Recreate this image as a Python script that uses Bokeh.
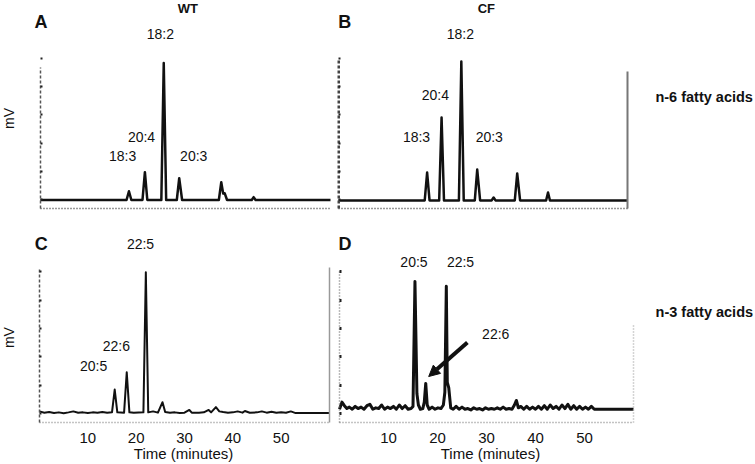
import math
from bokeh.plotting import figure
from bokeh.models import Range1d, LinearAxis, FixedTicker, Label, Arrow, NormalHead
from bokeh.layouts import column, row
from bokeh.embed import file_html
from bokeh.resources import INLINE

# ---------------- data ----------------
# Panel A: WT, n-6 fatty acids (time in minutes, signal in arbitrary mV units)
a_time = [0, 17.8, 18.3, 18.8, 21.1, 21.6, 22.1, 25.0, 25.5, 26.0, 28.2, 28.7, 29.3,
          36.9, 37.4, 37.8, 38.1, 38.6, 43.7, 44.1, 44.5, 60]
a_signal = [0, 0, 6.2, 0, 0, 19.6, 0, 0, 96.6, 0, 0, 15.4, 0,
            0, 12.6, 4.5, 4.8, 0, 0, 2.0, 0, 0]

# Panel B: CF, n-6 fatty acids
b_time = [0, 17.9, 18.4, 18.9, 20.9, 21.4, 21.9, 25.0, 25.5, 26.0, 28.3, 28.8, 29.4,
          31.8, 32.2, 32.6, 36.6, 37.1, 37.7, 43.1, 43.5, 43.9, 60]
b_signal = [-0.3, -0.3, 19.4, -0.3, -0.3, 58.2, -0.3, -0.3, 97.8, -0.3, -0.3, 21.5, -0.3,
            -0.3, 1.8, -0.3, -0.3, 18.7, -0.3, -0.3, 5.3, -0.3, -0.3]

# Panel C: WT, n-3 fatty acids
c_time = [0, 1, 2, 3, 4, 5, 6, 7, 8, 9, 10, 11, 12, 13, 14, 15.0, 15.56, 16.1, 17.5, 18.05,
          18.6, 19.5, 21.5, 22.0, 22.5, 23.5, 24.5, 25.45, 26.0, 27, 28, 29, 30, 31.0, 31.5,
          33, 34, 35.0, 35.5, 36.5, 37.2, 38, 39, 40, 41, 42, 42.5, 43.5, 45, 46, 47, 48, 49,
          50, 51, 52, 53, 60]
c_signal = [1.5, 0.5, 1.0, 0.3, 0.8, 0.2, 0.8, 1.5, 0.5, 0.8, 0.3, 0.8, 0.5, 1.0, 0.5, 0.8,
            16.9, 0.8, 0.6, 29.1, 0.8, 0.5, 0.8, 99.7, 0.8, 1.5, 0.6, 8.0, 1.0, 0.5, 0.8, 0.4,
            0.6, 2.5, 0.6, 0.5, 0.8, 2.5, 0.8, 4.5, 1.5, 1.0, 0.6, 0.8, 1.5, 0.6, 1.8, 0.5,
            0.8, 1.5, 0.6, 1.2, 0.5, 0.8, 0.5, 1.5, 0.3, 0.3]

# Panel D: CF, n-3 fatty acids
d_time = [0, 0.5, 1.0, 1.5, 2.0, 2.6, 3.2, 3.8, 4.4, 5.0, 5.6, 6.2, 6.8, 7.4, 8.0, 8.6, 9.2,
          9.8, 10.4, 11.0, 11.6, 12.2, 12.8, 13.4, 14.0, 14.6, 15.0, 15.4, 15.8, 16.1, 16.5,
          17.0, 17.3, 17.6, 17.9, 18.3, 18.9, 19.5, 20.1, 20.7, 21.2, 21.5, 21.8, 22.0, 22.3,
          22.7, 23.2, 23.8, 24.4, 25.0, 25.6, 26.2, 26.8, 27.4, 28.0, 28.6, 29.2, 29.8, 30.4,
          31.0, 31.6, 32.2, 32.8, 33.4, 34.0, 34.6, 35.2, 35.7, 36.1, 36.5, 37.0, 37.6, 38.2,
          38.8, 39.4, 40.0, 40.6, 41.2, 41.8, 42.4, 43.0, 43.6, 44.2, 44.8, 45.4, 46.0, 46.6,
          47.2, 47.8, 48.4, 49.0, 49.6, 50.2, 50.8, 51.4, 52.0, 60]
d_signal = [3.0, 8.0, 5.5, 3.5, 4.5, 3.0, 5.0, 3.5, 4.5, 3.0, 5.5, 6.5, 3.0, 4.0, 3.5, 6.0, 3.0,
            4.5, 3.5, 5.0, 3.0, 6.0, 3.5, 5.5, 3.0, 3.5, 5.0, 93.2, 14.0, 6.0, 3.0,
            3.5, 8.0, 21.2, 6.0, 3.0, 4.5, 3.0, 4.0, 3.5, 6.0, 15.0, 89.8, 22.0, 18.0,
            4.0, 3.0, 5.0, 3.0, 4.5, 3.0, 3.5, 2.5, 4.0, 3.0, 3.5, 2.5, 4.0, 3.0,
            3.5, 3.0, 4.0, 3.0, 4.5, 3.0, 3.5, 3.0, 6.0, 9.2, 4.0, 5.0, 3.0, 5.0,
            3.0, 4.5, 3.0, 5.0, 3.0, 5.5, 3.0, 6.0, 3.5, 5.0, 3.0, 6.0, 3.5, 6.5,
            3.0, 5.5, 3.0, 5.0, 3.0, 4.5, 3.0, 5.0, 3.0, 3.0]

x_ticks = [10, 20, 30, 40, 50]
y_ticks = [0, 20, 40, 60, 80, 100]

FONT = "Liberation Sans"
T_MAX = 60.0


def make_fig(width, height, x0_px, x60_px, y_bottom_px, y_bottom_val, px_per_unit):
    """Figure whose frame is the whole canvas; ranges chosen so that t=0..60 maps to
    canvas pixels x0_px..x60_px, and signal value y_bottom_val sits at y_bottom_px."""
    ppm = (x60_px - x0_px) / T_MAX
    xr = Range1d(-x0_px / ppm, (width - x0_px) / ppm)
    y_top = y_bottom_val + y_bottom_px / px_per_unit
    y_low = y_bottom_val - (height - y_bottom_px) / px_per_unit
    p = figure(width=width, height=height, x_range=xr, y_range=Range1d(y_low, y_top),
               output_backend="svg", toolbar_location=None, title=None,
               min_border=0, min_border_left=0, min_border_right=0,
               min_border_top=0, min_border_bottom=0)
    p.grid.visible = False
    p.outline_line_color = None
    p.background_fill_color = "white"
    p.border_fill_color = "white"
    ya = p.yaxis[0]
    ya.fixed_location = 0
    ya.ticker = FixedTicker(ticks=y_ticks)
    ya.major_label_overrides = {t: "" for t in y_ticks}
    ya.axis_line_color = "#555555"
    ya.axis_line_width = 1.5
    ya.axis_line_dash = "3 2"
    ya.major_tick_line_color = "#222222"
    ya.major_tick_line_width = 2
    ya.major_tick_in = 2
    ya.major_tick_out = 0
    ya.minor_tick_line_color = None
    ya.major_label_standoff = 0
    xa = p.xaxis[0]
    xa.fixed_location = y_bottom_val
    xa.bounds = (0, T_MAX)
    xa.axis_line_color = "#555555"
    xa.axis_line_width = 1.5
    xa.axis_line_dash = "1 2"
    xa.major_tick_line_color = None
    xa.minor_tick_line_color = None
    xa.major_tick_out = 0
    xa.major_tick_in = 0
    return p


def add_right(p, color, dash, width, bounds):
    ax = LinearAxis(axis_line_color=color, axis_line_dash=dash, axis_line_width=width,
                    major_tick_line_color=None, minor_tick_line_color=None,
                    major_label_standoff=0, major_tick_out=0, major_tick_in=0,
                    bounds=bounds, fixed_location=T_MAX, ticker=FixedTicker(ticks=[]))
    p.add_layout(ax, "right")


def lab(p, x, y, text, size="14px", bold=False, align="center", angle=0.0):
    p.add_layout(Label(x=x, y=y, text=text, text_font=FONT, text_font_size=size,
                       text_font_style="bold" if bold else "normal",
                       text_align=align, text_baseline="middle", angle=angle,
                       text_color="#111111"))


PPU = 1.417  # pixels per signal unit

pA = make_fig(337, 216, 40, 330, 208, -6.0, PPU)
pB = make_fig(418, 216, 1, 290, 208, -6.0, PPU)
pC = make_fig(337, 248, 39, 329, 206, -6.35, PPU)
pD = make_fig(418, 248, 2, 296, 206, -6.35, PPU)

pA.yaxis[0].bounds = (-6.0, 93.5)
pB.yaxis[0].bounds = (-6.0, 98.5)
pC.yaxis[0].bounds = (-6.35, 102.3)
pD.yaxis[0].bounds = (-6.35, 100.9)

for p in (pA, pB):
    p.xaxis[0].ticker = FixedTicker(ticks=[])
    p.xaxis[0].axis_line_color = "#333333"

for p in (pC, pD):
    xa = p.xaxis[0]
    xa.ticker = FixedTicker(ticks=x_ticks)
    xa.major_label_text_font = FONT
    xa.major_label_text_font_size = "15px"
    xa.major_label_text_color = "#111111"
    xa.major_label_standoff = 10
    xa.axis_line_color = "#888888"

pB.yaxis[0].axis_line_width = 3
pB.yaxis[0].axis_line_color = "#444444"
pD.yaxis[0].axis_line_color = "#777777"
pD.yaxis[0].axis_line_dash = "1 2"
pD.yaxis[0].major_tick_line_width = 3

add_right(pB, "#777777", "solid", 2, (-6.0, 91.0))
add_right(pC, "#999999", "solid", 1.5, (-6.35, 103.0))
add_right(pD, "#aaaaaa", "1 2", 1.5, (-6.35, 63.0))

# traces
pA.line(a_time, a_signal, line_color="#111111", line_width=2.5, line_join="round")
pB.line(b_time, b_signal, line_color="#111111", line_width=2.5, line_join="round")
pC.line(c_time, c_signal, line_color="#111111", line_width=2, line_join="round")
pD.line(d_time, d_signal, line_color="#111111", line_width=3, line_join="round")

# labels panel A
lab(pA, 0.1, 125.3, "A", size="18px", bold=True)
lab(pA, 30.5, 135.0, "WT", size="13px", bold=True)
lab(pA, 24.8, 117.5, "18:2")
lab(pA, 20.9, 44.8, "20:4")
lab(pA, 17.0, 31.4, "18:3")
lab(pA, 31.7, 31.4, "20:3")
lab(pA, -6.6, 57.5, "mV", angle=math.pi / 2)

# labels panel B
lab(pB, 1.3, 125.3, "B", size="18px", bold=True)
lab(pB, 30.7, 135.0, "CF", size="13px", bold=True)
lab(pB, 25.3, 117.5, "18:2")
lab(pB, 20.1, 73.8, "20:4")
lab(pB, 16.2, 44.8, "18:3")
lab(pB, 31.3, 44.8, "20:3")
lab(pB, 65.8, 72.6, "n-6 fatty acids", size="14.5px", bold=True, align="left")

# labels panel C
lab(pC, 0.35, 119.7, "C", size="18px", bold=True)
lab(pC, 20.9, 119.7, "22:5")
lab(pC, 15.9, 47.5, "22:6")
lab(pC, 11.2, 33.4, "20:5")
lab(pC, -6.4, 53.6, "mV", angle=math.pi / 2)
lab(pC, 29.8, -28.2, "Time (minutes)", size="15px")

# labels panel D
lab(pD, 1.1, 119.7, "D", size="18px", bold=True)
lab(pD, 15.2, 106.8, "20:5")
lab(pD, 24.7, 106.8, "22:5")
lab(pD, 29.1, 56.2, "22:6", align="left")
lab(pD, 64.5, 71.5, "n-3 fatty acids", size="14.5px", bold=True, align="left")
lab(pD, 30.8, -28.2, "Time (minutes)", size="15px")
pD.add_layout(Arrow(end=NormalHead(size=11, fill_color="#111111", line_color="#111111"),
                    x_start=26.1, y_start=50.1, x_end=18.2, y_end=26.1,
                    line_width=4, line_color="#111111"))

layout = column(row(pA, pB), row(pC, pD))
open("out.html", "w").write(file_html(layout, INLINE))
